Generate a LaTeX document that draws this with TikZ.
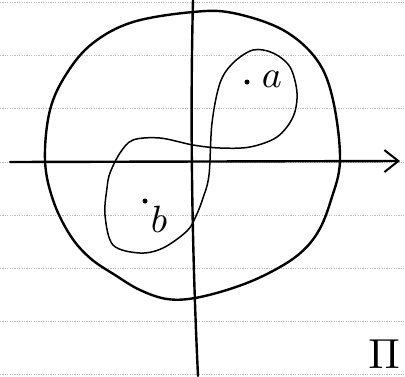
\documentclass[tikz,border=0pt]{standalone}
\usetikzlibrary{arrows.meta}
\begin{document}
\begin{tikzpicture}[x=1pt,y=-1pt,
  ruled/.style={gray!55,line width=0.6pt,dash pattern=on 1.2pt off 1.2pt},
  thick ink/.style={line width=2.4pt,line cap=round,line join=round},
  thin ink/.style={line width=1.5pt,line cap=round,line join=round},
  dotpt/.style={circle,fill=black,inner sep=0pt,minimum size=5pt},
  lbl/.style={inner sep=0pt,scale=3.8}]
\useasboundingbox (0,0) rectangle (405,376);
\fill[white] (0,0) rectangle (405,376);
% ruled paper
\foreach \yy in {2,55,108,162,215,268,321,374}
  \draw[ruled] (0,\yy) -- (405,\yy);
% big circle
\draw[thick ink] plot[smooth cycle,tension=0.6] coordinates {
  (45,160) (50,110) (67,73) (93,43) (133,22) (193,12) (233,13) (283,30)
  (317,60) (333,100) (340,160) (331,200) (318,232) (298,255) (267,274)
  (233,288) (195,298) (167,299) (140,290) (115,275) (90,258)
  (70,235) (53,200)};
% loop around a and b
\draw[thin ink] plot[smooth cycle,tension=0.55] coordinates {
  (212,123) (220,83) (233,63) (253,50) (273,53) (290,67) (297,93)
  (293,117) (277,137) (250,147) (220,148) (193,145) (160,138) (133,140)
  (120,153) (110,173) (107,188) (105,215) (113,245) (140,253) (163,248)
  (187,231) (196,216) (203,198) (209,175)};
% axes
\coordinate (xl) at (10,162);
\coordinate (xr) at (400,161);
\coordinate (yt) at (193,0);
\coordinate (yb) at (198,376);
\draw[thick ink,-{Straight Barb[length=14pt,width=22pt,line width=2pt]}] (xl) -- (xr);
\draw[thick ink] (yt) .. controls (190,120) and (192,250) .. (yb);
% points and labels
\node[dotpt] (pa) at (247,82) {};
\node[lbl] (la) at (272,79) {$a$};
\node[dotpt] (pb) at (145,201) {};
\node[lbl] (lb) at (159,219) {$b$};
\node[inner sep=0pt,scale=4.2] (pi) at (384,354) {$\Pi$};
\end{tikzpicture}
\end{document}
